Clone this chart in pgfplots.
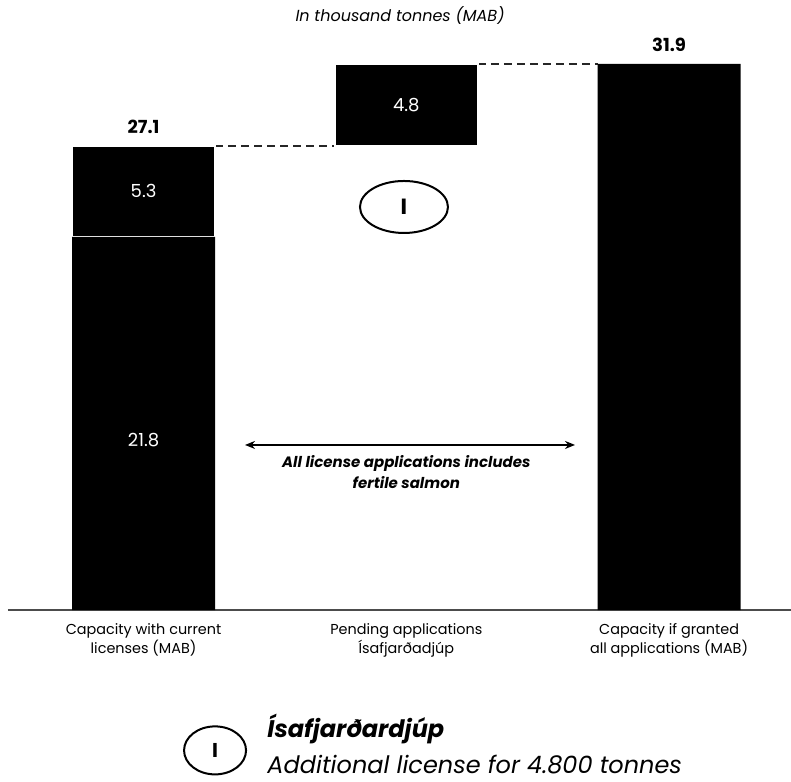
\documentclass[border=0pt]{standalone}
\usepackage{pgfplots}
\pgfplotsset{compat=1.18}
\usetikzlibrary{shapes.geometric,arrows.meta}
\usepackage{fontspec}
\setmainfont{Poppins}
\begin{document}
\begin{tikzpicture}
\useasboundingbox (-4pt,-85.5pt) rectangle (391.5pt,305pt);
\begin{axis}[
  scale only axis, width=391.5pt, height=305pt,
  xmin=-0.516, xmax=2.464, ymin=0, ymax=35.63,
  axis y line=none, axis x line*=bottom,
  x axis line style={draw=black!70, line width=1pt},
  ybar stacked, bar width=0.544,
  xtick={0,1,2}, major tick length=0pt,
  xticklabels={Capacity with current\\licenses (MAB), Pending applications\\Ísafjarðadjúp, Capacity if granted\\all applications (MAB)},
  xticklabel style={align=center, font=\fontsize{7.2}{8}\selectfont, yshift=-3pt},
  ytick=\empty,
  clip=false,
]
\addplot[fill=none, draw=none] coordinates {(0,0) (1,27.1) (2,0)};
\addplot[fill=black, draw=none] coordinates {(0,21.8) (1,0) (2,31.9)};
\addplot[fill=black, draw=white, line width=1pt] coordinates {(0,5.3) (1,4.8) (2,0)};
% dashed connectors
\draw[black!85, line width=1pt, dash pattern=on 4pt off 2.5pt] (axis cs:0.272,27.1) -- (axis cs:0.728,27.1);
\draw[black!85, line width=1pt, dash pattern=on 4pt off 2.5pt] (axis cs:1.272,31.9) -- (axis cs:1.728,31.9);
\coordinate (l53) at (axis cs:0,24.45);
\coordinate (l48) at (axis cs:1,29.5);
\coordinate (l218) at (axis cs:0,9.93);
% labels
\node[font=\fontsize{8}{9}\selectfont\itshape] at (axis cs:0.976,34.75) {In thousand tonnes (MAB)};
\node[font=\fontsize{9}{10}\selectfont\bfseries, anchor=south] at (axis cs:0,27.4) {27.1};
\node[font=\fontsize{9}{10}\selectfont\bfseries, anchor=south] at (axis cs:2,32.2) {31.9};
\node[draw, line width=1pt, ellipse, minimum width=44pt, minimum height=26pt, inner sep=0pt, font=\fontsize{11}{12}\selectfont\bfseries] at (axis cs:0.991,23.54) {I};
\draw[{Stealth[length=5pt,width=4pt]}-{Stealth[length=5pt,width=4pt]}, line width=1pt] (axis cs:0.386,9.64) -- (axis cs:1.642,9.64);
\node[align=center, font=\fontsize{7.5}{10.5}\selectfont\bfseries\itshape] at (axis cs:1.0,8.06) {All license applications includes\\fertile salmon};
% legend
\node[draw, line width=1pt, ellipse, minimum width=31pt, minimum height=24pt, inner sep=0pt, font=\fontsize{10}{12}\selectfont\bfseries] at (axis cs:0.272,-8.2) {I};
\node[anchor=west, inner sep=0pt, font=\fontsize{12}{13}\selectfont\bfseries\itshape] at (axis cs:0.47,-6.95) {Ísafjarðardjúp};
\node[anchor=west, inner sep=0pt, font=\fontsize{12}{13}\selectfont\itshape] at (axis cs:0.47,-9.0) {Additional license for 4.800 tonnes};
\end{axis}
\node[font=\fontsize{9}{10}\selectfont, text=white] at (l53) {5.3};
\node[font=\fontsize{9}{10}\selectfont, text=white] at (l48) {4.8};
\node[font=\fontsize{9}{10}\selectfont, text=white] at (l218) {21.8};
\end{tikzpicture}
\end{document}
